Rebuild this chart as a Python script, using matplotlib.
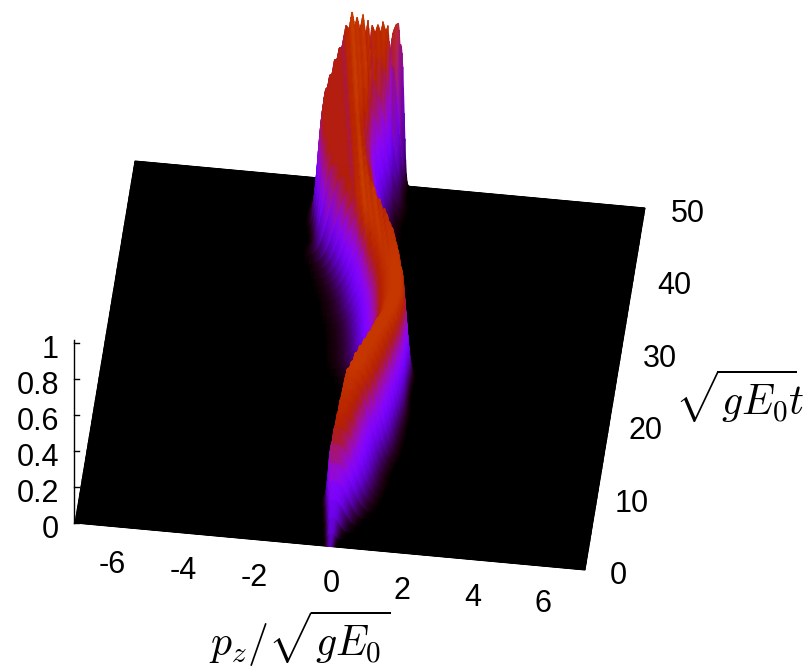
#!/usr/bin/python
import numpy as np
import matplotlib as mpl
mpl.use('Agg')
import matplotlib.pyplot as plt

plt.rcParams['font.family'] = ['Liberation Sans', 'DejaVu Sans']
plt.rcParams['mathtext.fontset'] = 'cm'

###################################
# values
###################################
t_rows = list(range(0, 51))
# left and right end of the crest of each time slice
edge_l = [0,-.03,-.05,-.07,-.1,-.12,-.15,-.1,-.05,0,.04,.07,.1,.18,.26,.35,.45,.55,.65,.73,.82,.9,.93,.95,.95,.93,
          .89,.85,.77,.69,.6,.48,.37,.25,.08,-.08,-.25,-.47,-.7,-.98,-1.25,-1.42,-1.55,-1.62,-1.68,-1.68,-1.66,-1.58,-1.48,-1.38,-1.3]
edge_r = [0,-.03,-.05,-.07,-.1,-.12,-.15,-.1,-.05,0,.05,.15,.25,.35,.45,.55,.65,.75,.85,.93,1.02,1.1,1.13,1.15,1.15,1.12,
          1.08,1.05,.97,.91,.85,.77,.68,.6,.5,.38,.25,.05,-.15,-.35,-.55,-.7,-.85,-.95,-1.,-.95,-.85,-.65,-.35,-.05,.29]
crest_z = [0,.03,.08,.135,.2,.26,.33,.38,.42,.46,.48,.5,.51,.51,.52,.52,.52,.52,.52,.52,.51,.51,.51,.5,.5,.5,
           .49,.49,.48,.48,.47,.47,.47,.47,.46,.46,.46,.47,.48,.5,.53,.56,.6,.63,.67,.7,.75,.8,.86,.9,.95]
crest_col = [.12,.15,.18,.22,.3,.38,.46,.5,.53,.55,.57,.58,.6,.6,.6,.6,.6,.6,.6,.6,.6,.6,.6,.6,.6,.6,
             .6,.6,.61,.61,.62,.62,.63,.63,.64,.64,.65,.65,.66,.66,.66,.66,.66,.66,.66,.66,.66,.66,.66,.66,.66]
width_r = [.08,.14,.23,.35,.44,.53,.6,.62,.62,.62,.6,.58,.56,.55,.52,.48,.44,.4,.36,.32,.27,.22,.2,.2,.2,.18,
           .16,.15,.15,.15,.15,.15,.15,.15,.15,.17,.2,.25,.3,.4,.5,.6,.65,.7,.7,.7,.68,.6,.42,.28,.1]
width_l = [.06,.06,.07,.07,.08,.08,.09,.09,.1,.1,.1,.11,.12,.13,.15,.17,.2,.23,.27,.31,.35,.4,.45,.5,.55,.58,
           .58,.58,.57,.56,.55,.55,.54,.52,.5,.48,.46,.42,.38,.33,.26,.18,.15,.15,.15,.15,.15,.15,.15,.15,.15]
ripple = [0]*28 + [.04,.08,.12,.16,.2,.24,.28,.32,.36,.4,.44,.48,.52,.56,.6,.64,.68,.72,.78,.84,.9,.95,1.]

# jagged top of the last slice
top_p = [-1.42,-1.33,-1.24,-1.15,-1.07,-.99,-.93,-.85,-.76,-.68,-.62,-.56,-.51,-.42,-.34,-.25,-.2,-.11,-.06,0,.08,.17,.25,.28]
top_z = [.83,.79,.88,.86,.97,.87,.94,.86,.95,.83,.92,.78,.9,.85,.9,.85,.92,.86,.9,.74,.86,.91,.92,.8]

p_ticks = [-6, -4, -2, 0, 2, 4, 6]
t_ticks = [0, 10, 20, 30, 40, 50]
z_ticks = [0, .2, .4, .6, .8, 1]
z_labels = ['0', '0.2', '0.4', '0.6', '0.8', '1']

###################################
# view: near middle of floor and the floor/height vectors, in pixels
###################################
W, H = 806, 669
p_max = 7.2
streak_drift = 0.06
px_p = 510/14.4
py_p = 47/14.4
px_t = 60/50.
py_t = 362/50.
z_px = 180.

def project(p, t, z=0):
    return 330 + px_p*p + px_t*t, 546.5 + py_p*p - py_t*t - z_px*z

def slice_height(p, i):
    dr = np.where(p > edge_r[i], (p - edge_r[i])/width_r[i], 0.)
    dl = np.where(p < edge_l[i], (edge_l[i] - p)/width_l[i], 0.)
    prof = np.exp(-0.5*dr**3 - 0.5*dl**2)
    # streaks run down and to the right towards earlier times
    rip = np.interp(p - streak_drift*(t_rows[-1] - t_rows[i]), top_p, top_z)/0.97
    return prof, 1 - rip

# gnuplot pm3d default palette (rgbformulae 7,5,15)
xx = np.linspace(0, 1, 256)
pal = np.c_[np.sqrt(xx), xx**3, np.clip(np.sin(2*np.pi*xx), 0, 1)]
cmap = mpl.colors.ListedColormap(pal)

p_grid = np.linspace(-p_max, p_max, 721)
# far slices first so near ones paint over them
rows = np.arange(len(t_rows))[::-1]
XX = np.zeros((len(rows), len(p_grid)))
YY = np.zeros_like(XX)
CC = np.zeros_like(XX)
for k, i in enumerate(rows):
    prof, dip = slice_height(p_grid, i)
    XX[k], YY[k] = project(p_grid, t_rows[i], crest_z[i]*prof*(1 - ripple[i]*dip))
    CC[k] = crest_col[i]*prof*(1 - 1.8*min(1, 2*ripple[i])*dip)

fig = plt.figure(figsize=(W/100., H/100.), dpi=100)
ax = fig.add_axes([0, 0, 1, 1])
ax.set_xlim(0, W)
ax.set_ylim(H, 0)
ax.axis('off')

ax.pcolormesh(XX, YY, CC, cmap=cmap, vmin=0, vmax=1, shading='gouraud', zorder=1)

# z axis
zx = 74
zy = [project(-p_max, 0, z)[1] for z in z_ticks]
ax.plot([zx, zx], [zy[0], zy[-1] - 3], color='k', lw=1, zorder=2)
for z, yy, lab in zip(z_ticks, zy, z_labels):
    ax.plot([zx, zx + 5], [yy, yy], color='k', lw=1, zorder=2)
    ax.text(59, yy + 7, lab, ha='right', va='center', fontsize=22)

for p in p_ticks:
    xp, yp = project(p, 0)
    off = -5 if p < 0 else 1
    ax.text(xp + off, yp + 38, str(p), ha='center', va='center', fontsize=22)

for t in t_ticks:
    xp, yp = project(p_max, t)
    ax.text(xp + 33 + 0.2*t, yp + 6, str(t), ha='center', va='center', fontsize=22)

ax.text(300, 639, r'$p_z/\sqrt{gE_0}$', ha='center', va='center', fontsize=30)
ax.text(740, 396, r'$\sqrt{gE_0}\!t$', ha='center', va='center', fontsize=30)

fig.savefig('out.png', dpi=100)
